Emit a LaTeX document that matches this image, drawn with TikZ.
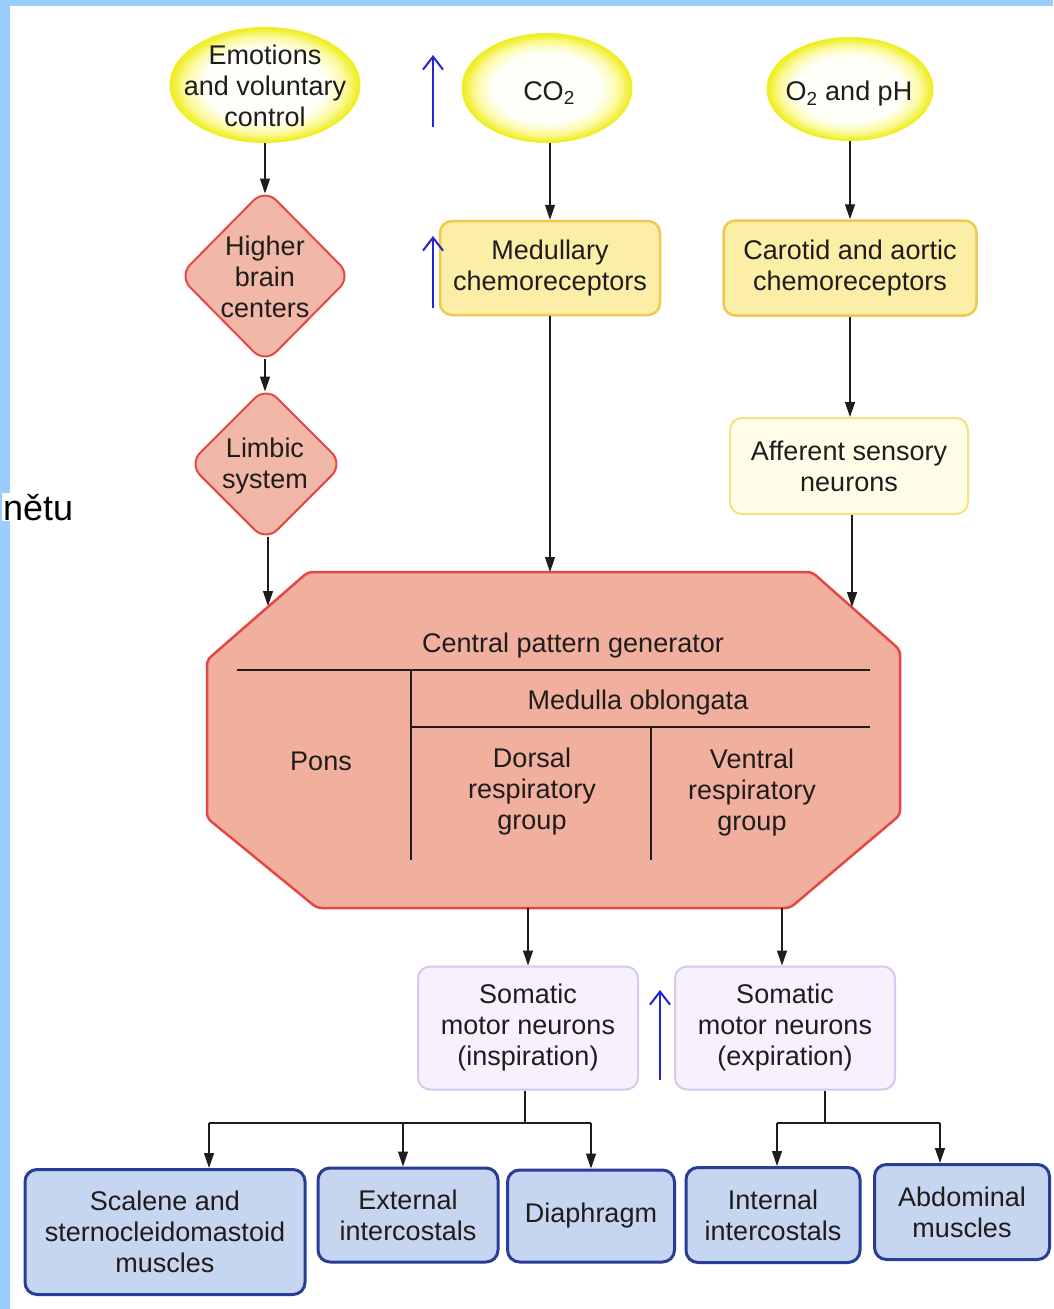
\documentclass[tikz,border=0pt]{standalone}
\usepackage{fontspec}
\setmainfont{Liberation Sans}
\usetikzlibrary{shapes.geometric,arrows.meta}

% palette
\definecolor{slideblue}{RGB}{153,204,255}
\definecolor{inkdark}{RGB}{32,28,28}
\definecolor{ylwedge}{RGB}{240,238,40}
\definecolor{ylwmid}{RGB}{251,250,160}
\definecolor{ylwcore}{RGB}{255,255,250}
\definecolor{chemofill}{RGB}{251,239,168}
\definecolor{chemoline}{RGB}{240,200,80}
\definecolor{afffill}{RGB}{255,253,232}
\definecolor{affline}{RGB}{244,226,130}
\definecolor{brainfill}{RGB}{241,184,168}
\definecolor{cnsfill}{RGB}{241,176,158}
\definecolor{cnsline}{RGB}{228,72,68}
\definecolor{motorfill}{RGB}{246,241,252}
\definecolor{motorline}{RGB}{214,200,238}
\definecolor{musclefill}{RGB}{198,213,240}
\definecolor{muscleline}{RGB}{40,62,150}
\definecolor{markblue}{RGB}{35,35,215}

% glowing yellow stimulus blobs
\pgfdeclareradialshading{yellowglow}{\pgfpoint{0bp}{0bp}}{%
  color(0bp)=(ylwcore); color(16bp)=(ylwcore); color(21bp)=(ylwmid);
  color(24.5bp)=(ylwedge); color(50bp)=(ylwedge)}

\tikzset{
  lbl/.style={font=\fontsize{27}{31}\selectfont, text=inkdark, align=center, inner sep=0pt},
  stim/.style={ellipse, inner sep=0pt, shading=yellowglow, draw=ylwedge, line width=1pt},
  brainbox/.style={diamond, aspect=1, inner sep=0pt, rounded corners=16pt,
    fill=brainfill, draw=cnsline, line width=2pt},
  chemobox/.style={lbl, rectangle, rounded corners=12pt, fill=chemofill, draw=chemoline, line width=2.5pt},
  affbox/.style={lbl, rectangle, rounded corners=12pt, fill=afffill, draw=affline, line width=2pt},
  motorbox/.style={lbl, rectangle, rounded corners=12pt, fill=motorfill, draw=motorline, line width=2pt},
  musclebox/.style={lbl, rectangle, rounded corners=12pt, fill=musclefill, draw=muscleline, line width=3pt},
  feed/.style={-{Triangle[length=15pt,width=10pt]}, line width=1.3pt, draw=inkdark},
  bus/.style={line width=1.3pt, draw=inkdark},
  divider/.style={line width=2pt, draw=inkdark},
  rise/.style={-{Straight Barb[length=13pt,width=20pt]}, line width=2pt, draw=markblue},
}

\begin{document}
\begin{tikzpicture}[x=1pt, y=-1pt]
\useasboundingbox (0,0) rectangle (1053,1309);
\fill[white] (0,0) rectangle (1053,1309);

% slide frame strips
\fill[slideblue] (0,0) rectangle (10,1309);
\fill[slideblue] (0,0) rectangle (1053,6);
\node[font=\fontsize{36}{42}\selectfont, text=black, fill=white, inner sep=1pt, anchor=base west] (frag) at (2,520) {nětu};

% stimuli
\node[stim, minimum width=190pt, minimum height=115pt] (emo) at (265,85) {};
\node[lbl] (emot) at (265,86) {Emotions\\and voluntary\\control};
\node[stim, minimum width=170pt, minimum height=109pt] (co2) at (547,88) {};
\node[lbl] (co2t) at (549,93) {CO\textsubscript{2}};
\node[stim, minimum width=166pt, minimum height=103pt] (otwo) at (850,89) {};
\node[lbl] (otwot) at (849,94) {O\textsubscript{2} and pH};

% higher centres
\node[brainbox, minimum width=173pt, minimum height=175pt] (hbc) at (265,276) {};
\node[lbl] (hbct) at (265,277) {Higher\\brain\\centers};
\node[brainbox, minimum width=155pt, minimum height=155pt] (lim) at (266,464) {};
\node[lbl] (limt) at (265,466) {Limbic\\system};

% receptors
\node[chemobox, minimum width=220pt, minimum height=94pt] (med) at (550,268) {Medullary\\chemoreceptors};
\node[chemobox, minimum width=253pt, minimum height=95pt] (car) at (850,268) {Carotid and aortic\\chemoreceptors};
\node[affbox, minimum width=238pt, minimum height=96pt] (aff) at (849,466) {Afferent sensory\\neurons};

% central pattern generator
\draw[fill=cnsfill, draw=cnsline, line width=2.5pt, rounded corners=5pt]
  (308,572) -- (812,572) -- (900,650) -- (900,815) -- (790,908) -- (317,908)
  -- (207,818) -- (207,660) -- cycle;
\coordinate (inL) at (268,606);
\coordinate (inM) at (550,572);
\coordinate (inR) at (852,607);
\coordinate (outL) at (528,908);
\coordinate (outR) at (782,908);
\draw[divider] (237,670) -- (870,670);
\draw[divider] (410,727) -- (870,727);
\draw[divider] (411,670) -- (411,860);
\draw[divider] (651,727) -- (651,860);
\node[lbl] (cpg) at (573,646) {Central pattern generator};
\node[lbl] (mob) at (638,703) {Medulla oblongata};
\node[lbl] (pons) at (321,761) {Pons};
\node[lbl] (drg) at (532,792) {Dorsal\\respiratory\\group};
\node[lbl] (vrg) at (752,793) {Ventral\\respiratory\\group};

% motor neurons
\node[motorbox, minimum width=220pt, minimum height=123pt] (smi) at (528,1028) {Somatic\\motor neurons\\(inspiration)};
\node[motorbox, minimum width=220pt, minimum height=123pt] (sme) at (785,1028) {Somatic\\motor neurons\\(expiration)};

% effector muscles
\node[musclebox, minimum width=280pt, minimum height=125pt] (scal) at (165,1232) {Scalene and\\sternocleidomastoid\\muscles};
\node[musclebox, minimum width=180pt, minimum height=94pt] (ext) at (408,1215) {External\\intercostals};
\node[musclebox, minimum width=167pt, minimum height=92pt] (dia) at (591,1216) {Diaphragm};
\node[musclebox, minimum width=174pt, minimum height=95pt] (int) at (773,1215) {Internal\\intercostals};
\node[musclebox, minimum width=175pt, minimum height=95pt] (abd) at (962,1212) {Abdominal\\muscles};

% afferent pathways
\draw[feed, shorten >=-6pt] (emo.south) -- (hbc.north);
\draw[feed, shorten <=-6pt, shorten >=-6pt] (hbc.south) -- (lim.north -| hbc.south);
\draw[feed, shorten <=-6pt] (lim.south -| inL) -- (inL);
\draw[feed] (co2.south -| med.north) -- (med.north);
\draw[feed] (otwo.south) -- (otwo.south |- car.north);
\draw[feed] (med.south) -- (inM);
\draw[feed] (car.south) -- (car.south |- aff.north);
\draw[feed] (aff.south -| inR) -- (inR);

% efferent pathways
\draw[feed] (outL) -- (outL |- smi.north);
\draw[feed] (outR) -- (outR |- sme.north);

\coordinate (busI) at (525,1123);
\coordinate (busIL) at (209,1123);
\coordinate (busIM) at (403,1123);
\coordinate (busIR) at (591,1123);
\draw[bus] (smi.south -| busI) -- (busI);
\draw[bus] (busIL) -- (busIR);
\draw[feed] (busIL) -- (busIL |- scal.north);
\draw[feed] (busIM) -- (busIM |- ext.north);
\draw[feed] (busIR) -- (busIR |- dia.north);

\coordinate (busE) at (825,1123);
\coordinate (busEL) at (777,1123);
\coordinate (busER) at (940,1123);
\draw[bus] (sme.south -| busE) -- (busE);
\draw[bus] (busEL) -- (busER);
\draw[feed] (busEL) -- (busEL |- int.north);
\draw[feed] (busER) -- (busER |- abd.north);

% increase markers
\coordinate (upA0) at (433,127);
\coordinate (upA1) at (433,55);
\coordinate (upB0) at (433,308);
\coordinate (upB1) at (433,236);
\coordinate (upC0) at (660,1080);
\coordinate (upC1) at (660,990);
\draw[rise] (upA0) -- (upA1);
\draw[rise] (upB0) -- (upB1);
\draw[rise] (upC0) -- (upC1);
\end{tikzpicture}
\end{document}
